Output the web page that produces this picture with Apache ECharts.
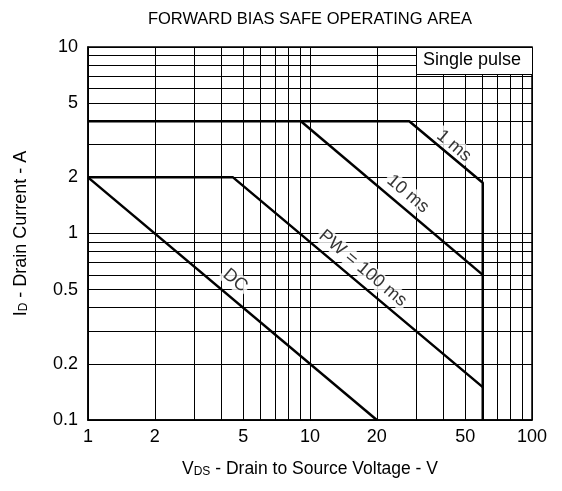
<!DOCTYPE html>
<html>
<head>
<meta charset="utf-8">
<script src="https://cdn.jsdelivr.net/npm/echarts@6/dist/echarts.min.js"></script>
<style>
  html, body { margin: 0; padding: 0; background: #fff; }
  #soa { width: 562px; height: 491px; }
</style>
</head>
<body>
<div id="soa"></div>
<script>
// grid / tick values
var xGrid = [1, 2, 3, 4, 5, 6, 7, 8, 9, 10, 20, 30, 40, 50, 60, 70, 80, 90, 100];
var xLabels = [1, 2, 5, 10, 20, 50, 100];
var yGrid = [0.1, 0.2, 0.3, 0.4, 0.5, 0.6, 0.7, 0.8, 0.9, 1, 2, 3, 4, 5, 6, 7, 8, 9, 10];
var yLabels = [0.1, 0.2, 0.5, 1, 2, 5, 10];

// SOA boundary curves [VDS, ID]
var pulse1ms = [[1, 4], [28, 4], [60, 1.87], [60, 0.1]];
var pulse10ms = [[9.1, 4], [60, 0.6]];
var pulse100ms = [[1, 2], [4.5, 2], [60, 0.15]];
var dcLine = [[1, 2], [20, 0.1]];

// curve captions [VDS, ID, text]
var captions = [
    [44.5, 2.95, '1 ms'],
    [27.6, 1.63, '10 ms'],
    [17.3, 0.65, 'PW = 100 ms'],
    [4.6, 0.56, 'DC']
];

var chart = echarts.init(document.getElementById('soa'));

function curve(data) {
    return {
        type: 'line',
        data: data,
        symbol: 'none',
        silent: true,
        lineStyle: { color: '#000', width: 2.5 },
        z: 5
    };
}

var fontFamily = 'Liberation Sans, Arial, sans-serif';

var option = {
    animation: false,
    backgroundColor: '#fff',
    title: {
        text: 'FORWARD BIAS SAFE OPERATING AREA',
        left: 305,
        top: 6,
        textAlign: 'center',
        textStyle: { fontFamily: fontFamily, fontSize: 16.5, fontWeight: 'normal', color: '#000' }
    },
    grid: {
        left: 88, right: 30, top: 47, bottom: 71,
        show: true, borderColor: '#000', borderWidth: 1.5, backgroundColor: '#fff'
    },
    xAxis: {
        type: 'log',
        logBase: 10,
        min: 1,
        max: 100,
        name: '{a|V}{s|DS}{a| - Drain to Source Voltage - V}',
        nameLocation: 'middle',
        nameGap: 40,
        nameTextStyle: {
            rich: {
                a: { fontFamily: fontFamily, fontSize: 17.5, color: '#000' },
                s: { fontFamily: fontFamily, fontSize: 12, color: '#000', verticalAlign: 'bottom', padding: [5, 0, 0, 0] }
            }
        },
        axisLine: { show: true, lineStyle: { color: '#000', width: 1.5 } },
        axisTick: { show: false, customValues: xGrid },
        axisLabel: {
            customValues: xLabels,
            fontFamily: fontFamily, fontSize: 18, color: '#000', margin: 8,
            formatter: function (v) { return String(Math.round(v * 100) / 100); }
        },
        splitLine: { show: true, lineStyle: { color: '#000', width: 1 } }
    },
    yAxis: {
        type: 'log',
        logBase: 10,
        min: 0.1,
        max: 10,
        name: '{a|I}{s|D}{a| - Drain Current - A}',
        nameLocation: 'middle',
        nameGap: 58,
        nameTextStyle: {
            rich: {
                a: { fontFamily: fontFamily, fontSize: 18, color: '#000' },
                s: { fontFamily: fontFamily, fontSize: 12, color: '#000', verticalAlign: 'bottom', padding: [5, 0, 0, 0] }
            }
        },
        axisLine: { show: true, lineStyle: { color: '#000', width: 1.5 } },
        axisTick: { show: false, customValues: yGrid },
        axisLabel: {
            customValues: yLabels,
            fontFamily: fontFamily, fontSize: 18, color: '#000', margin: 10,
            formatter: function (v) { return String(Math.round(v * 100) / 100); }
        },
        splitLine: { show: true, lineStyle: { color: '#000', width: 1 } }
    },
    graphic: [{
        type: 'rect',
        left: 416,
        top: 47,
        z: 100,
        shape: { width: 116, height: 27 },
        style: { fill: '#fff', stroke: '#000', lineWidth: 1 }
    }, {
        type: 'text',
        left: 423,
        top: 51,
        z: 101,
        style: {
            text: 'Single pulse', fill: '#000', fontSize: 18, fontFamily: fontFamily
        }
    }],
    series: [
        curve(pulse1ms),
        curve(pulse10ms),
        curve(pulse100ms),
        curve(dcLine),
        {
            type: 'scatter',
            data: captions,
            symbolSize: 0,
            silent: true,
            z: 3,
            label: {
                show: true,
                position: 'inside',
                rotate: -40,
                formatter: function (p) { return p.data[2]; },
                fontFamily: fontFamily, fontSize: 18, color: '#000',
                backgroundColor: '#fff', padding: [0, 2]
            }
        }
    ]
};

chart.setOption(option);

window.addEventListener('resize', function () {
    chart.resize();
});
</script>
</body>
</html>
